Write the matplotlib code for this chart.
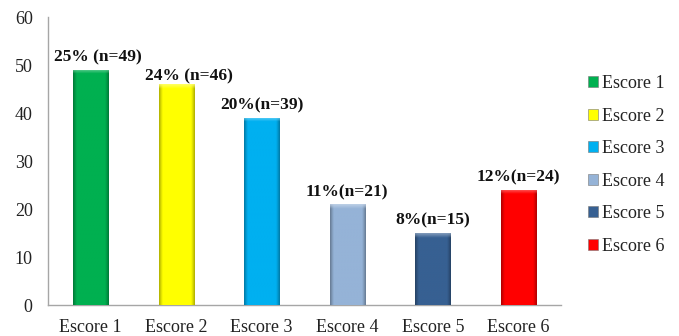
import numpy as np
import matplotlib
matplotlib.use("Agg")
import matplotlib.pyplot as plt
from matplotlib.patches import Patch
from matplotlib.colors import to_rgb

# data
categories = ["Escore 1", "Escore 2", "Escore 3", "Escore 4", "Escore 5", "Escore 6"]
counts = [49, 46, 39, 21, 15, 24]
bar_labels = ["25% (n=49)", "24% (n=46)", "20%(n=39)", "11%(n=21)", "8%(n=15)", "12%(n=24)"]
colors = ["#00B050", "#FFFF00", "#00B0F0", "#95B3D7", "#376092", "#FF0000"]

plt.rcParams["font.family"] = ["Liberation Serif", "DejaVu Serif"]

fig = plt.figure(figsize=(6.79, 3.36), dpi=100)
ax = fig.add_axes([48 / 679, 1 - 305 / 336, (561 - 48) / 679, (305 - 17) / 336])

x = np.arange(len(categories))
bars = ax.bar(x, counts, width=0.41, color=colors, label=categories, zorder=2)

ax.set_yticks(range(0, 61, 10))
ax.set_xticks(x)
ax.set_xticklabels(categories)
ax.tick_params(axis="both", length=0, labelsize=13, colors="#222222")
ax.tick_params(axis="y", pad=11)
ax.tick_params(axis="x", pad=10)
for s in ["top", "right"]:
    ax.spines[s].set_visible(False)
for s in ["left", "bottom"]:
    ax.spines[s].set_color("#A6A6A6")
    ax.spines[s].set_linewidth(1.0)


def shade(rgb, n_rows, top_frac):
    # bevel look: darker sides, light band fading down from the top
    w = 60
    rgb = np.array(rgb)
    xs = np.linspace(0, 1, w)
    edge = np.minimum(xs, 1 - xs)
    f = 0.7 + 0.3 * np.clip(edge / 0.1, 0, 1)
    img = np.ones((n_rows, w, 3)) * rgb
    img *= f[None, :, None]
    k = max(2, int(round(top_frac * n_rows)))
    light = rgb + (1 - rgb) * 0.45
    t = np.linspace(0.85, 0.0, k)[:, None, None]
    img[:k] = img[:k] * (1 - t) + light * t
    return np.clip(img, 0, 1)


for b, c in zip(bars, colors):
    x0, y0 = b.get_x(), b.get_y()
    w, h = b.get_width(), b.get_height()
    img = shade(to_rgb(c), 400, 1.0 / h)
    im = ax.imshow(img, extent=[x0, x0 + w, y0, y0 + h], aspect="auto",
                   origin="upper", zorder=3, interpolation="bilinear")
    im.set_clip_path(b)

ax.set_xlim(-0.5, len(categories) - 0.5)
ax.set_ylim(0, 60)

# the first two labels sit a little off-centre in the original
nudge = [(5, 3), (9, 0), (0, 3), (0, 3), (0, 3), (0, 3)]
for xi, v, lab, (dx, dy) in zip(x, counts, bar_labels, nudge):
    ax.annotate(lab, (xi, v), xytext=(dx, dy), textcoords="offset points",
                ha="center", va="bottom", fontsize=12.5, fontweight="bold",
                color="#111111", zorder=4)

handles = [Patch(facecolor=c, edgecolor="#777777", linewidth=0.4) for c in colors]
fig.legend(handles, categories, loc="center left",
           bbox_to_anchor=(588 / 679, 1 - 165 / 336), bbox_transform=fig.transFigure,
           frameon=False, fontsize=13, handlelength=0.55, handleheight=0.55,
           handletextpad=0.2, labelspacing=0.86, borderpad=0, borderaxespad=0,
           labelcolor="#222222")

fig.savefig("out.png", dpi=100)
